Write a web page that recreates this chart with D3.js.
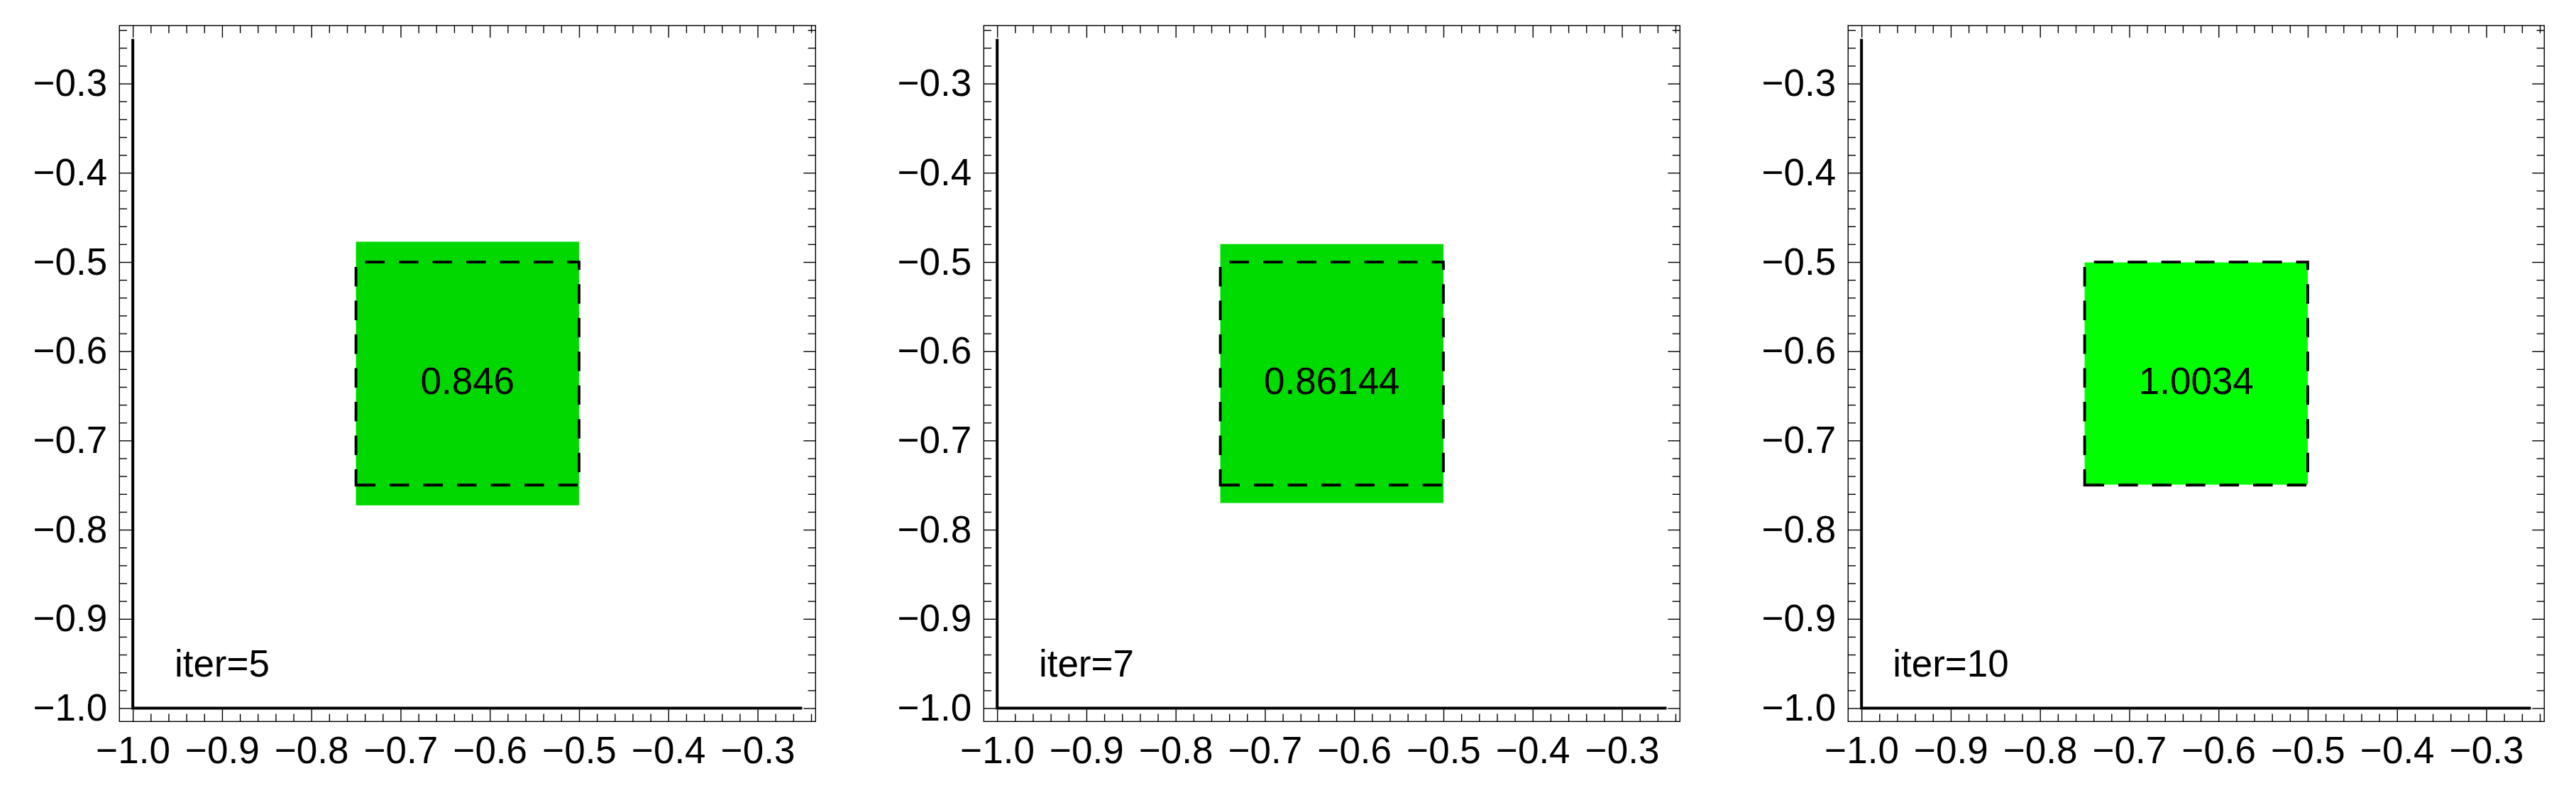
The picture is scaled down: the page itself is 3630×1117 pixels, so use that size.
<!DOCTYPE html>
<html>
<head>
<meta charset="utf-8">
<script src="https://cdn.jsdelivr.net/npm/d3@7"></script>
<style>
  html, body { margin: 0; padding: 0; background: #fff; }
  svg { display: block; }
  text { font-family: "Liberation Sans", Arial, sans-serif; }
</style>
</head>
<body>
<svg id="chart" width="3630" height="1117"></svg>
<script>
// ---- data ----
const iterations = [5, 7, 10];
const ratios = [0.846, 0.86144, 1.0034];
const boxX = [-0.75, -0.5];
const boxY = [-0.75, -0.5];
const axisLineEnd = -0.25;
const axisOrigin = -1.0;
const majorTicks = [-1.0, -0.9, -0.8, -0.7, -0.6, -0.5, -0.4, -0.3];
const domainXY = [-1.015, -0.235];

// ---- layout ----
const W = 3630, H = 1117;
const panelLeft0 = 168.3, panelStep = 1218, panelTop = 36, panelW = 981, panelH = 980.3;
const fontSize = 53;
const majorLen = 17, minorLen = 10.7;

const svg = d3.select("#chart");
svg.append("rect").attr("width", W).attr("height", H).attr("fill", "#fff");

const minorTicks = d3.range(-50, -11).map(i => i * 0.02)
  .filter(v => v >= domainXY[0] && v <= domainXY[1])
  .filter(v => !majorTicks.some(m => Math.abs(m - v) < 1e-9));

const fmt = d3.format(".1f");
const green = d3.scaleLinear().domain([0, 1]).range(["#000000", "#00ff00"]).clamp(true);

iterations.forEach((it, i) => {
  const left = panelLeft0 + panelStep * i;
  const x = d3.scaleLinear().domain(domainXY).range([left, left + panelW]);
  const y = d3.scaleLinear().domain(domainXY).range([panelTop + panelH, panelTop]);
  const g = svg.append("g");

  // green scaled rectangle
  const v = ratios[i];
  const cy = (boxY[0] + boxY[1]) / 2;
  const half = (boxY[1] - boxY[0]) / v / 2;
  g.append("rect")
    .attr("x", x(boxX[0]))
    .attr("width", x(boxX[1]) - x(boxX[0]))
    .attr("y", y(cy + half))
    .attr("height", y(cy - half) - y(cy + half))
    .attr("fill", green(v));

  // dashed target box (starting bottom-left, going right, up, left, down)
  const p = d3.path();
  p.moveTo(x(boxX[0]), y(boxY[0]));
  p.lineTo(x(boxX[1]), y(boxY[0]));
  p.lineTo(x(boxX[1]), y(boxY[1]));
  p.lineTo(x(boxX[0]), y(boxY[1]));
  p.closePath();
  g.append("path").attr("d", p.toString())
    .attr("fill", "none").attr("stroke", "#000")
    .attr("stroke-width", 3.8).attr("stroke-dasharray", "27.5,20");

  // value label
  g.append("text")
    .attr("x", x((boxX[0] + boxX[1]) / 2))
    .attr("y", y(cy) + 29)
    .attr("text-anchor", "middle")
    .attr("font-size", fontSize)
    .text(String(v));

  // thick axes lines
  g.append("path")
    .attr("d", `M${x(axisOrigin)},${y(axisLineEnd)}L${x(axisOrigin)},${y(axisOrigin)}L${x(axisLineEnd)},${y(axisOrigin)}`)
    .attr("fill", "none").attr("stroke", "#000").attr("stroke-width", 4);

  // iter label
  g.append("text")
    .attr("x", x(-0.9))
    .attr("y", y(-0.95) + 18)
    .attr("text-anchor", "middle")
    .attr("font-size", fontSize)
    .text("iter=" + it);

  // axes (ticks inward)
  const bottom = g.append("g").attr("transform", `translate(0,${panelTop + panelH})`)
    .call(d3.axisBottom(x).tickValues(majorTicks).tickFormat(fmt)
      .tickSizeInner(-majorLen).tickSizeOuter(0).tickPadding(21.5));
  const leftAx = g.append("g").attr("transform", `translate(${left},0)`)
    .call(d3.axisLeft(y).tickValues(majorTicks).tickFormat(fmt)
      .tickSizeInner(-majorLen).tickSizeOuter(0).tickPadding(17));
  const topAx = g.append("g").attr("transform", `translate(0,${panelTop})`)
    .call(d3.axisTop(x).tickValues(majorTicks).tickFormat(() => "")
      .tickSizeInner(-majorLen).tickSizeOuter(0));
  const rightAx = g.append("g").attr("transform", `translate(${left + panelW},0)`)
    .call(d3.axisRight(y).tickValues(majorTicks).tickFormat(() => "")
      .tickSizeInner(-majorLen).tickSizeOuter(0));

  // minor ticks
  g.append("g").attr("transform", `translate(0,${panelTop + panelH})`)
    .call(d3.axisBottom(x).tickValues(minorTicks).tickFormat(() => "").tickSizeInner(-minorLen).tickSizeOuter(0));
  g.append("g").attr("transform", `translate(${left},0)`)
    .call(d3.axisLeft(y).tickValues(minorTicks).tickFormat(() => "").tickSizeInner(-minorLen).tickSizeOuter(0));
  g.append("g").attr("transform", `translate(0,${panelTop})`)
    .call(d3.axisTop(x).tickValues(minorTicks).tickFormat(() => "").tickSizeInner(-minorLen).tickSizeOuter(0));
  g.append("g").attr("transform", `translate(${left + panelW},0)`)
    .call(d3.axisRight(y).tickValues(minorTicks).tickFormat(() => "").tickSizeInner(-minorLen).tickSizeOuter(0));

  g.selectAll(".domain").remove();
  g.selectAll(".tick line").attr("stroke", "#000").attr("stroke-width", 1.4);
  g.selectAll(".tick text").attr("font-size", fontSize).attr("fill", "#000")
    .attr("font-family", "'Liberation Sans', Arial, sans-serif");

  // frame
  g.append("rect")
    .attr("x", left).attr("y", panelTop)
    .attr("width", panelW).attr("height", panelH)
    .attr("fill", "none").attr("stroke", "#000").attr("stroke-width", 1.4);
});
</script>
</body>
</html>
